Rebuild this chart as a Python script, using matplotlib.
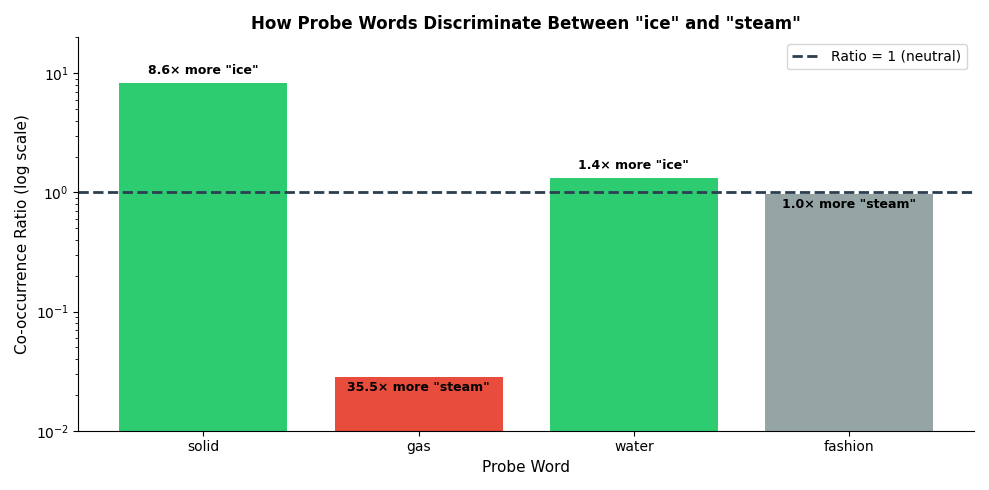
import matplotlib
matplotlib.use("Agg")
import matplotlib.pyplot as plt

words = ["solid", "gas", "water", "fashion"]
ratios = [8.3, 0.0282, 1.33, 0.97]
labels = ['8.6× more "ice"', '35.5× more "steam"', '1.4× more "ice"', '1.0× more "steam"']
colors = ["#2ecc71", "#e74c3c", "#2ecc71", "#95a5a6"]

fig, ax = plt.subplots(figsize=(9.89, 4.9), dpi=100)
bars = ax.bar(words, ratios, color=colors, width=0.78)
ax.set_yscale("log")
ax.set_ylim(0.01, 20)
ax.axhline(1, color="#2c3e50", linestyle="--", linewidth=2, label="Ratio = 1 (neutral)")

for bar, r, lab in zip(bars, ratios, labels):
    x = bar.get_x() + bar.get_width() / 2
    if r >= 1:
        ax.text(x, r * 1.12, lab, ha="center", va="bottom", fontsize=9, fontweight="bold")
    else:
        ax.text(x, r * 0.92, lab, ha="center", va="top", fontsize=9, fontweight="bold")

ax.set_xlabel("Probe Word", fontsize=11)
ax.set_ylabel("Co-occurrence Ratio (log scale)", fontsize=11)
ax.set_title('How Probe Words Discriminate Between "ice" and "steam"', fontsize=12, fontweight="bold")
ax.legend(loc="upper right")
ax.spines["top"].set_visible(False)
ax.spines["right"].set_visible(False)
fig.tight_layout()
fig.savefig("out.png")
